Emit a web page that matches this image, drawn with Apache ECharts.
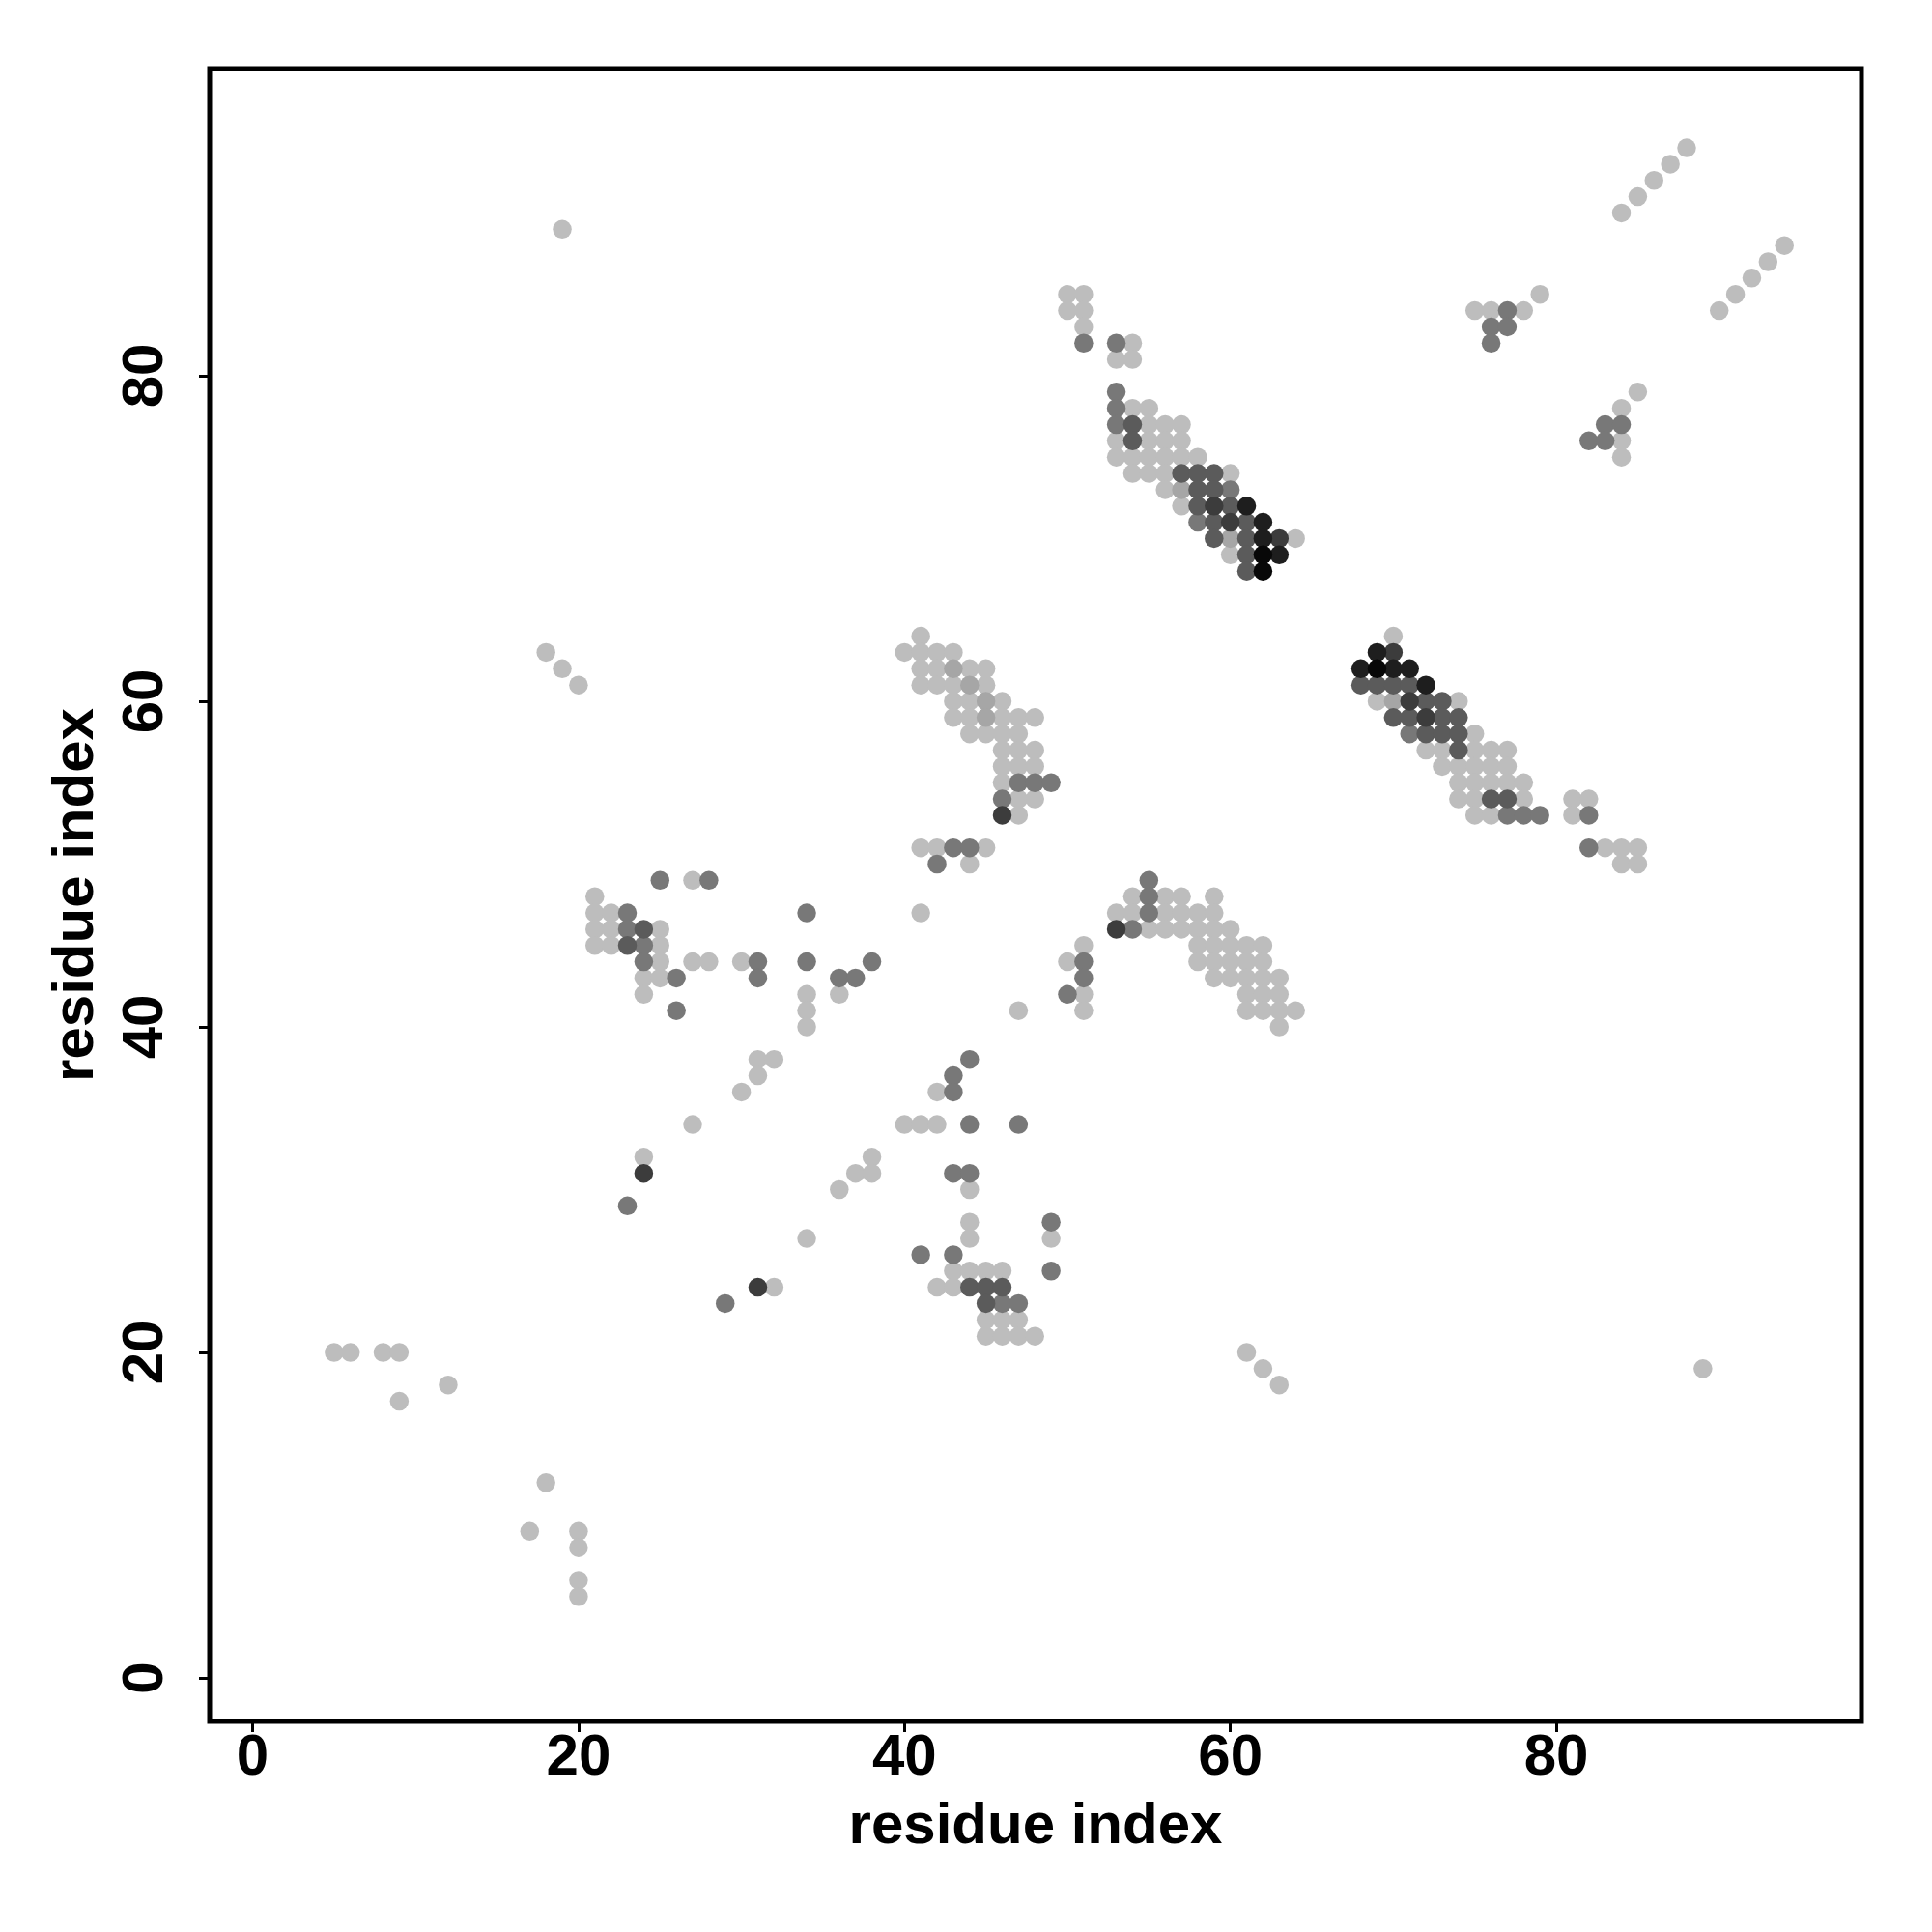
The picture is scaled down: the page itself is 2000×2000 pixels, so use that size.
<!DOCTYPE html>
<html>
<head>
<meta charset="utf-8">
<script src="https://cdn.jsdelivr.net/npm/echarts@6/dist/echarts.min.js"></script>
<style>
html,body{margin:0;padding:0;background:#fff;}
#chart{width:2000px;height:2000px;}
</style>
</head>
<body>
<div id="chart"></div>
<script>
// ---- data: contact pairs [residue i, residue j] grouped by overlap level (1 = lightest) ----
const tickValues = [0, 20, 40, 60, 80];
const xTitle = 'residue index';
const yTitle = 'residue index';

const level1 = [
  [50,85],[51,85],[50,84],[51,84],[51,83],[54,82],[53,81],[54,81],[54,78],[55,78],[55,77],[56,77],[57,77],
  [53,76],[55,76],[56,76],[57,76],[53,75],[54,75],[55,75],[56,75],[57,75],[58,75],[54,74],[55,74],[56,74],
  [60,74],[56,73],[57,72],[60,69],[64,70],
  [70,64],[69,60],[74,60],[75,58],[72,57],[73,57],[75,57],[76,57],[77,57],[73,56],[74,56],[75,56],[76,56],
  [77,56],[74,55],[75,55],[76,55],[77,55],[78,55],[74,54],[75,54],[78,54],[81,54],[82,54],[75,53],[76,53],
  [81,53],[83,51],[84,51],[85,51],[84,50],[85,50],
  [41,64],[40,63],[41,63],[42,63],[43,63],[41,62],[42,62],[44,62],[45,62],[41,61],[42,61],[43,61],[45,61],
  [43,60],[44,60],[46,60],[43,59],[44,59],[46,59],[47,59],[48,59],[44,58],[45,58],[46,58],[47,58],[46,57],
  [47,57],[48,57],[46,56],[47,56],[48,56],[46,55],[47,54],[48,54],[47,53],
  [41,51],[42,51],[45,51],[44,50],[41,47],
  [54,48],[56,48],[57,48],[59,48],[53,47],[54,47],[56,47],[57,47],[58,47],[59,47],[55,46],[56,46],[57,46],
  [58,46],[59,46],[60,46],[51,45],[58,45],[59,45],[60,45],[61,45],[62,45],[50,44],[58,44],[59,44],[60,44],
  [61,44],[62,44],[59,43],[60,43],[61,43],[62,43],[63,43],[51,42],[61,42],[62,42],[63,42],[51,41],[61,41],
  [62,41],[63,41],[64,41],[63,40],
  [27,49],[21,48],[21,47],[22,47],[21,46],[22,46],[25,46],[21,45],[22,45],[25,45],[25,44],[27,44],[28,44],
  [30,44],[24,43],[25,43],[24,42],[34,42],[36,42],[34,41],[34,40],
  [47,41],[42,36],[40,34],[41,34],[42,34],[44,30],[44,28],[44,27],[49,27],[43,25],[44,25],[45,25],[46,25],
  [42,24],[43,24],[45,22],[46,22],[47,22],[45,21],[46,21],[47,21],[48,21],
  [31,38],[32,38],[31,37],[30,36],[27,34],[24,32],[38,32],[37,31],[38,31],[36,30],[34,27],[32,24],
  [88,94],[87,93],[86,92],[85,91],[84,90],[94,88],[93,87],[92,86],[91,85],[79,85],[90,84],[75,84],[76,84],
  [78,84],[85,79],[84,78],[84,76],[84,75],
  [5,20],[6,20],[8,20],[9,20],[12,18],[9,17],[18,12],[17,9],[20,9],[20,8],[20,6],[20,5],
  [19,89],[18,63],[19,62],[20,61],[61,20],[62,19],[63,18],[89,19]
];
const level2 = [
  [57,73],[60,70],[70,60],[43,62],[44,61],[45,60],[45,59]
];
const level3 = [
  [51,82],[53,82],[53,79],[53,78],[53,77],[60,73],[58,71],
  [71,58],[77,53],[78,53],[79,53],[82,53],[82,51],
  [47,55],[48,55],[49,55],[46,54],[43,51],[44,51],[42,50],
  [55,49],[55,48],[55,47],[54,46],[51,44],[51,43],[50,42],
  [25,49],[28,49],[23,47],[23,46],[24,45],[24,44],[31,44],[34,44],[38,44],[26,43],[31,43],[36,43],[37,43],
  [26,41],[34,47],
  [44,38],[43,37],[43,36],[44,34],[47,34],[43,31],[44,31],[49,28],[41,26],[43,26],[49,25],[46,23],[47,23],
  [23,29],[29,23],
  [77,84],[76,83],[77,83],[76,82],[83,77],[84,77],[82,76],[83,76]
];
const level4 = [
  [54,77],[54,76],[57,74],[58,74],[59,74],[58,73],[59,73],[58,72],[60,72],[59,71],[61,71],[59,70],[61,70],
  [61,69],[61,68],
  [68,61],[69,61],[70,61],[71,61],[72,60],[73,60],[70,59],[71,59],[73,59],[74,59],[72,58],[73,58],[74,58],
  [74,57],[76,54],[77,54],
  [24,46],[23,45],
  [44,24],[45,24],[46,24],[45,23]
];
const level5 = [
  [59,72],[60,71],[63,70],[70,63],[71,60],[72,59],[46,53],[53,46],[24,31],[31,24]
];
const level6 = [
  [61,72],[62,71],[62,70],[63,69],[69,63],[68,62],[70,62],[71,62],[72,61]
];
const level7 = [
  [62,69],[62,68],[69,62]
];

// ---- styling ----
const levelSets = [level1, level2, level3, level4, level5, level6, level7];
const levelColors = ['#bdbdbd', '#a6a6a6', '#787878', '#5b5b5b', '#3c3c3c', '#1e1e1e', '#080808'];
const FONT = '"Liberation Sans", Arial, Helvetica, sans-serif';

const chart = echarts.init(document.getElementById('chart'), null, {renderer: 'canvas'});

function axisCommon(isX) {
  return {
    type: 'value',
    min: isX ? -2.64 : -2.67,
    max: isX ? 98.73 : 98.87,
    splitLine: {show: false},
    axisLine: {show: false, onZero: false},
    axisTick: {
      show: true, inside: false, length: 11,
      customValues: tickValues,
      lineStyle: {color: '#000', width: 3}
    },
    axisLabel: {
      show: true,
      customValues: tickValues,
      color: '#000',
      fontFamily: FONT,
      fontWeight: 'bold',
      fontSize: 60,
      margin: isX ? 38 : 66,
      rotate: isX ? 0 : 90,
      align: 'center',
      verticalAlign: 'middle'
    },
    name: isX ? xTitle : yTitle,
    nameLocation: 'middle',
    nameGap: isX ? 109 : 138,
    nameTextStyle: {
      color: '#000',
      fontFamily: FONT,
      fontWeight: 'bold',
      fontSize: 60,
      align: 'center',
      verticalAlign: 'middle'
    }
  };
}

const option = {
  backgroundColor: '#ffffff',
  animation: false,
  grid: {
    left: 217, top: 71, width: 1710, height: 1711,
    show: true, borderColor: '#000', borderWidth: 5, backgroundColor: 'transparent',
    containLabel: false
  },
  xAxis: axisCommon(true),
  yAxis: axisCommon(false),
  series: levelSets.map((pts, i) => ({
    type: 'scatter',
    name: 'level' + (i + 1),
    data: pts,
    symbol: 'circle',
    symbolSize: 19.5,
    itemStyle: {color: levelColors[i], opacity: 1},
    z: 2 + i
  }))
};
chart.setOption(option);
</script>
</body>
</html>
